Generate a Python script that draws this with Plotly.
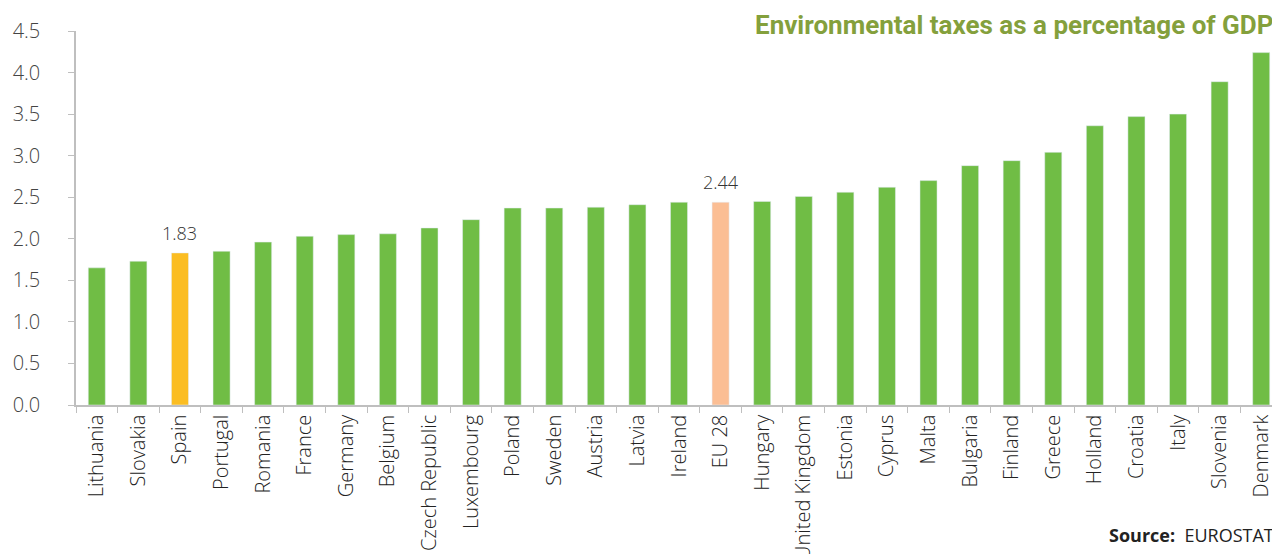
import plotly.graph_objects as go

countries = ["Lithuania", "Slovakia", "Spain", "Portugal", "Romania", "France", "Germany",
             "Belgium", "Czech Republic", "Luxembourg", "Poland", "Sweden", "Austria", "Latvia",
             "Ireland", "EU 28", "Hungary", "United Kingdom", "Estonia", "Cyprus", "Malta",
             "Bulgaria", "Finland", "Greece", "Holland", "Croatia", "Italy", "Slovenia", "Denmark"]
values = [1.65, 1.73, 1.83, 1.85, 1.96, 2.03, 2.05, 2.06, 2.13, 2.23, 2.37, 2.37, 2.38, 2.41,
          2.44, 2.44, 2.45, 2.51, 2.56, 2.62, 2.70, 2.88, 2.94, 3.04, 3.36, 3.47, 3.50, 3.89, 4.24]
y_ticks = [0.0, 0.5, 1.0, 1.5, 2.0, 2.5, 3.0, 3.5, 4.0, 4.5]
labelled = {"Spain": "1.83", "EU 28": "2.44"}

green, spain_col, eu_col = "#70BD45", "#FBBD22", "#FBBE94"
colors = [spain_col if c == "Spain" else eu_col if c == "EU 28" else green for c in countries]

fig = go.Figure(go.Bar(
    x=countries, y=values, marker_color=colors, width=0.41,
    hoverinfo="x+y",
))

for c, v in zip(countries, values):
    if c in labelled:
        fig.add_annotation(x=c, y=v, text=labelled[c], showarrow=False,
                           yanchor="bottom", yshift=6,
                           font=dict(family="Open Sans", size=18, color="#333333", weight=300))

fig.update_layout(
    width=1280, height=554,
    margin=dict(l=68, r=6, t=23, b=157),
    plot_bgcolor="white", paper_bgcolor="white",
    showlegend=False,
    font=dict(family="Open Sans", color="#333333"),
)
fig.update_yaxes(
    range=[0, 4.5], tickvals=y_ticks, ticktext=[f"{v:.1f}" for v in y_ticks],
    showgrid=False, showline=True, linecolor="#BFBFBF", linewidth=1.5,
    ticks="outside", ticklen=6, tickcolor="#BFBFBF", ticklabelstandoff=24,
    tickfont=dict(family="Open Sans", size=20, color="#444444", weight=300), zeroline=False,
    automargin=False,
)
fig.update_xaxes(
    showline=True, linecolor="#BFBFBF", linewidth=1.5, tickangle=-90,
    ticks="outside", ticklen=6, tickcolor="#BFBFBF", tickson="boundaries",
    tickfont=dict(family="Open Sans", size=20, color="#222222", weight=300),
    range=[-0.5, len(countries) - 0.5], automargin=False,
)
fig.add_annotation(
    text="<b>Environmental taxes as a percentage of GDP</b>",
    xref="paper", yref="paper", x=1.0, y=1.0, xanchor="right", yanchor="middle",
    xshift=-7, yshift=6, showarrow=False,
    font=dict(family="Roboto", size=26, color="#84A03C"),
)
fig.add_annotation(
    text="<b>Source:</b>  EUROSTAT",
    xref="paper", yref="paper", x=1.0, y=0, xanchor="right", yanchor="middle",
    xshift=-6, yshift=-130, showarrow=False,
    font=dict(family="Open Sans", size=18, color="#222222"),
)

fig.write_html("out.html")
